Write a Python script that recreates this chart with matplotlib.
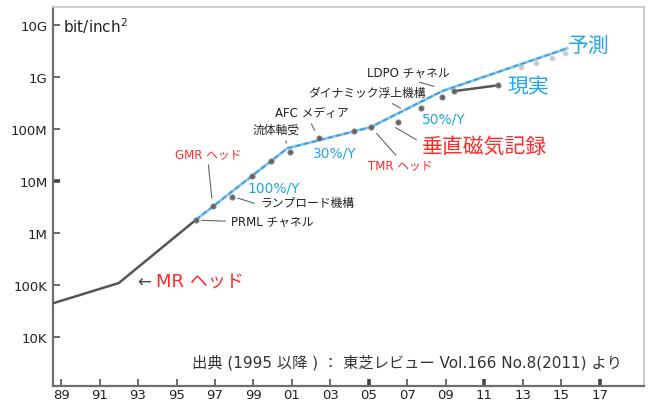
import matplotlib
matplotlib.use("Agg")
import matplotlib.pyplot as plt
from matplotlib.ticker import FixedLocator, NullLocator

plt.rcParams["font.family"] = ["DejaVu Sans", "Noto Sans CJK JP"]

# areal density history (bit/inch^2)
early_years = [1988.6, 1992.0, 1996.0]
early_density = [4.5e4, 1.1e5, 1.8e6]

trend_years = [1996.0, 2000.76, 2005.1, 2008.8, 2015.3]
trend_density = [1.8e6, 4.3e7, 1.1e8, 5.4e8, 3.6e9]

product_years = [1996.0, 1996.9, 1997.9, 1998.9, 1999.9, 2000.9, 2002.4,
                 2004.2, 2005.1, 2006.5, 2007.7, 2008.8, 2009.4, 2011.7]
product_density = [1.8e6, 3.3e6, 4.9e6, 1.26e7, 2.4e7, 3.6e7, 6.8e7,
                   9.2e7, 1.1e8, 1.4e8, 2.6e8, 4.2e8, 5.4e8, 7.0e8]

actual_years = [2009.4, 2011.7]
actual_density = [5.4e8, 7.0e8]

forecast_years = [2012.9, 2013.7, 2014.5, 2015.2]
forecast_density = [1.56e9, 1.86e9, 2.3e9, 2.9e9]

ytick_values = [1e4, 1e5, 1e6, 1e7, 1e8, 1e9, 1e10]
ytick_labels = ["10K", "100K", "1M", "10M", "100M", "1G", "10G"]
xtick_years = list(range(1989, 2018, 2))
xtick_labels = [f"{y % 100:02d}" for y in xtick_years]

BLUE = "#1fa6ec"
RED = "#ff2a2a"

fig = plt.figure(figsize=(6.51, 4.06), dpi=100)
ax = fig.add_axes([0.0814, 0.0468, 0.9076, 0.9332])
ax.set_yscale("log")
ax.set_xlim(1988.58, 2019.29)
ax.set_ylim(10 ** 3.06, 10 ** 10.35)

# lines and markers
ax.plot(early_years, early_density, color="#555555", lw=1.8, zorder=3)
ax.plot(trend_years, trend_density, color="#8cc8ee", lw=2.0, zorder=4)
ax.plot(trend_years, trend_density, color="#3c9fe0", lw=1.3,
        dashes=(3, 1.6), zorder=4)
ax.plot(actual_years, actual_density, color="#555555", lw=1.8, zorder=5)
ax.plot(product_years, product_density, "o", color="#636363", ms=3.8,
        mec="#8a8a8a", mew=0.6, zorder=6)
ax.plot(forecast_years, forecast_density, "o", color="#c9c9c9", ms=3.8,
        mec="#dddddd", mew=0.6, zorder=3)

# axes styling
ax.yaxis.set_major_locator(FixedLocator(ytick_values))
ax.yaxis.set_minor_locator(NullLocator())
ax.set_yticklabels(ytick_labels)
ax.set_xticks(xtick_years)
ax.set_xticklabels(xtick_labels)
ax.tick_params(axis="both", direction="in", length=5, width=1.1,
               color="#444444", labelsize=9.5, labelcolor="#222222")
ax.tick_params(axis="x", pad=1.5)
ax.tick_params(axis="y", pad=4)
for tick, lab in zip(ax.xaxis.get_major_ticks(), xtick_labels):
    if lab in ("05", "11", "17"):
        tick.tick1line.set_markeredgewidth(2.6)
for tick, lab in zip(ax.yaxis.get_major_ticks(), ytick_labels):
    if lab == "10M":
        tick.tick1line.set_markeredgewidth(2.6)

for side in ("left", "bottom"):
    ax.spines[side].set_color("#6e6e6e")
    ax.spines[side].set_linewidth(1.6)
for side in ("top", "right"):
    ax.spines[side].set_color("#c8c8c8")
    ax.spines[side].set_linewidth(1.3)

ax.text(1989.1, 1e10, "bit/inch$^{\\mathregular{2}}$", fontsize=11,
        va="center", ha="left", color="#222222")

# annotated milestones: (text, text pos, leader start, leader end, colour)
lead = dict(arrowstyle="-", color="#666666", lw=0.8)
notes = [
    ("PRML チャネル", (1997.83, 10 ** 6.23), (1997.68, 10 ** 6.23), (1996.15, 10 ** 6.25), "#222222"),
    ("ランプロード機構", (1999.34, 10 ** 6.60), (1999.18, 10 ** 6.56), (1998.05, 10 ** 6.69), "#222222"),
    ("GMR ヘッド", (1994.92, 10 ** 7.52), (1996.64, 10 ** 7.37), (1996.85, 10 ** 6.62), RED),
    ("流体軸受", (1998.97, 10 ** 8.0), (2000.64, 10 ** 7.83), (2000.76, 10 ** 7.68), "#222222"),
    ("AFC メディア", (2000.12, 10 ** 8.33), (2001.94, 10 ** 8.15), (2002.25, 10 ** 7.93), "#222222"),
    ("ダイナミック浮上機構", (2001.83, 10 ** 8.71), (2006.09, 10 ** 8.52), (2006.77, 10 ** 8.38), "#222222"),
    ("LDPO チャネル", (2004.9, 10 ** 9.10), (2007.49, 10 ** 8.92), (2008.53, 10 ** 8.81), "#222222"),
    ("TMR ヘッド", (2004.95, 10 ** 7.31), (2006.5, 10 ** 7.46), (2005.3, 10 ** 7.96), RED),
]
for label, tpos, start, end, col in notes:
    ax.text(*tpos, label, fontsize=8.5, color=col, ha="left", va="center")
    ax.annotate("", xy=end, xytext=start, arrowprops=lead)

ax.text(2007.75, 10 ** 7.69, "垂直磁気記録", fontsize=15, color=RED,
        ha="left", va="center")
ax.annotate("", xy=(2006.25, 10 ** 8.06), xytext=(2007.6, 10 ** 7.77),
            arrowprops=lead)

# growth rates
ax.text(1998.71, 10 ** 6.87, "100%/Y", fontsize=10, color=BLUE, va="center")
ax.text(2002.09, 10 ** 7.56, "30%/Y", fontsize=10, color=BLUE, va="center")
ax.text(2007.75, 10 ** 8.21, "50%/Y", fontsize=10, color=BLUE, va="center")

ax.text(2015.34, 10 ** 9.63, "予測", fontsize=15, color=BLUE, va="center")
ax.text(2012.22, 10 ** 8.83, "現実", fontsize=15, color=BLUE, va="center")

ax.text(1992.95, 10 ** 5.06, "←", fontsize=12, color="#444444", va="center")
ax.text(1993.95, 10 ** 5.06, "MR ヘッド", fontsize=13, color=RED, va="center")

ax.text(1995.8, 10 ** 3.52,
        "出典 (1995 以降 ) ： 東芝レビュー Vol.166 No.8(2011) より",
        fontsize=11, color="#333333", va="center")

fig.savefig("out.png", dpi=100)
